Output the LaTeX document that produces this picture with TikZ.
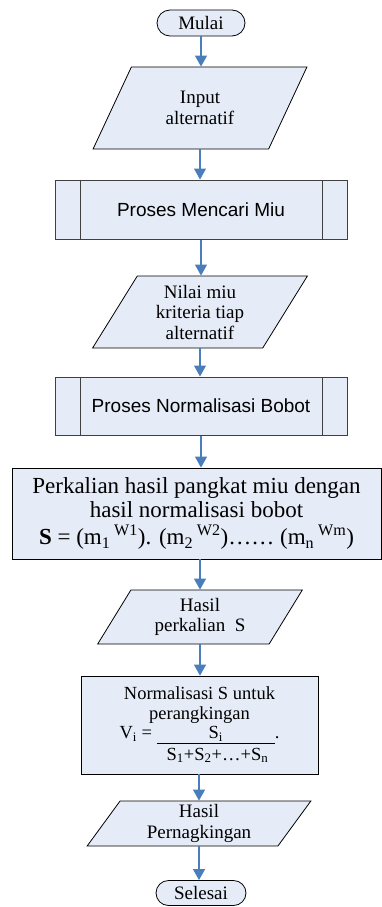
\documentclass[tikz,border=0pt]{standalone}
\usepackage{fontspec}
\setmainfont{Liberation Serif}
\setsansfont{Liberation Sans}
\usepackage{tikz}
\usetikzlibrary{shapes.geometric,shapes.misc,arrows.meta}
\definecolor{boxfill}{RGB}{230,236,247}
\definecolor{flowblue}{RGB}{74,126,187}
\definecolor{procline}{RGB}{64,64,64}

\begin{document}
\begin{tikzpicture}[x=1pt,y=-1pt,
    font=\fontsize{19}{20.5}\selectfont,
    terminal/.style={rounded rectangle, draw=black, fill=boxfill, line width=0.8pt,
      minimum width=88pt, minimum height=26pt, inner sep=0pt},
    io/.style={trapezium, trapezium left angle=60, trapezium right angle=120,
      trapezium stretches=true, draw=black, fill=boxfill, line width=0.8pt,
      align=center, inner sep=0pt},
    proc/.style={rectangle, draw=black, fill=boxfill, line width=0.8pt,
      align=center, inner sep=0pt},
    subproc/.style={rectangle, draw=procline, fill=boxfill, line width=1pt,
      minimum width=292pt, inner sep=0pt, font=\sffamily\fontsize{19}{21}\selectfont,
      path picture={\draw[procline, line width=1pt]
        ([xshift=25pt]path picture bounding box.north west) -- ([xshift=25pt]path picture bounding box.south west)
        ([xshift=-25pt]path picture bounding box.north east) -- ([xshift=-25pt]path picture bounding box.south east);}},
    flow/.style={draw=flowblue, line width=1.1pt, -{Triangle[width=12pt,length=11pt]}}]
  \useasboundingbox (0,0) rectangle (382,907);

  \node[terminal] (mulai) at (201,23) {Mulai};
  \node[io, minimum width=214pt, minimum height=82pt] (input) at (200,108) {Input\\alternatif};
  \node[subproc, minimum height=59pt] (mencari) at (201,209.5) {Proses Mencari Miu};
  \node[io, minimum width=215pt, minimum height=72pt] (nilai) at (200,312) {Nilai miu\\kriteria tiap\\alternatif};
  \node[subproc, minimum height=58pt] (bobot) at (201,406) {Proses Normalisasi Bobot};
  \node[proc, minimum width=369pt, minimum height=91pt,
    font=\fontsize{23}{23.5}\selectfont] (kali) at (196.5,513.5)
    {Perkalian hasil pangkat miu dengan\\hasil normalisasi bobot\\[4pt]
     \textbf{S} = (m\textsubscript{1}\,\textsuperscript{W1}). (m\textsubscript{2}\,\textsuperscript{W2})\dots\dots\ (m\textsubscript{n}\,\textsuperscript{Wm})};
  \node[io, minimum width=205pt, minimum height=54pt] (hasil) at (200,617) {Hasil\\perkalian~~S};
  \node[proc, minimum width=237pt, minimum height=98pt,
    font=\fontsize{18.5}{19.5}\selectfont] (norm) at (199.5,725)
    {Normalisasi S untuk\\perangkingan\\
     V\textsubscript{i} = \underline{\makebox[118pt]{S\textsubscript{i}}}.\\[2pt]
     \hspace*{36pt}S\textsubscript{1}+S\textsubscript{2}+\dots+S\textsubscript{n}};
  \node[io, minimum width=224pt, minimum height=45pt] (rank) at (199,823.5) {Hasil\\Pernagkingan};
  \node[terminal, minimum width=90pt, minimum height=25pt] (selesai) at (201,893) {Selesai};

  \draw[flow] (mulai.south) -- (mulai.south |- input.north);
  \draw[flow] (input.south) -- (input.south |- mencari.north);
  \draw[flow] (mencari.south) -- (mencari.south |- nilai.north);
  \draw[flow] (nilai.south) -- (nilai.south |- bobot.north);
  \draw[flow] (bobot.south) -- (bobot.south |- kali.north);
  \draw[flow] (kali.south -| hasil.north) -- (hasil.north);
  \draw[flow] (hasil.south) -- (hasil.south |- norm.north);
  \draw[flow] (norm.south -| rank.north) -- (rank.north);
  \draw[flow] (rank.south) -- (rank.south |- selesai.north);
\end{tikzpicture}
\end{document}
